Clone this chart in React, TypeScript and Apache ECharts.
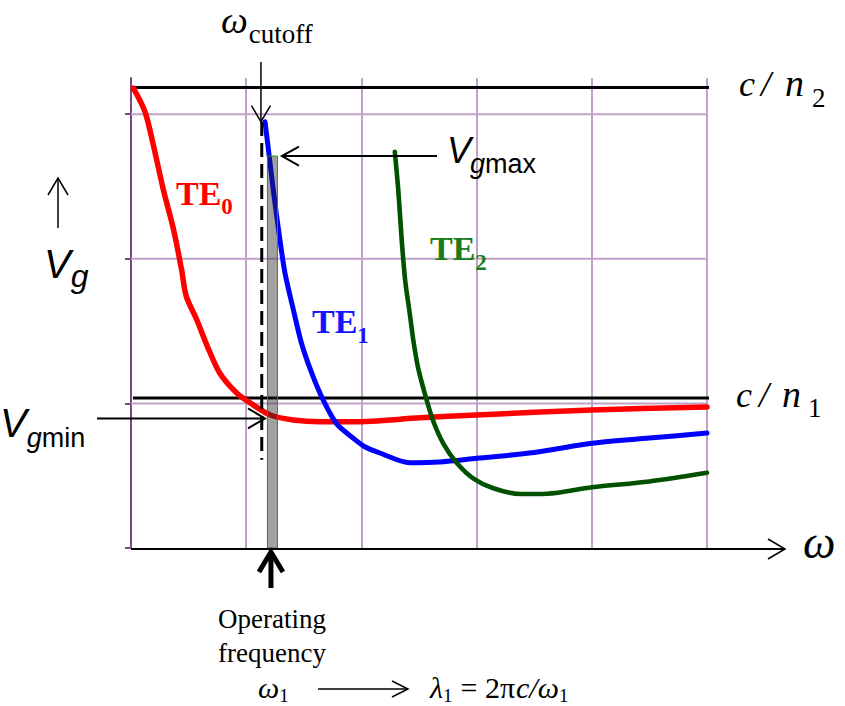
import React, { useEffect, useRef } from 'react';
import * as echarts from 'echarts';

// ---------- data (omega in grid units, group velocity in grid units) ----------
const omegaTicks = [0, 1, 2, 3, 4, 5];
const vgGridValues = [1, 2, 3];
const vgTickValues = [0, 1, 2, 3];

const te0Omega = [0.02, 0.12, 0.19, 0.28, 0.37, 0.44, 0.48, 0.57, 0.66, 0.77, 0.92, 1.06, 1.21, 1.41, 1.64, 1.93, 2.51, 3.0, 4.0, 5.0];
const te0Vg = [3.18, 3.02, 2.8, 2.48, 2.2, 1.92, 1.74, 1.58, 1.4, 1.21, 1.07, 0.99, 0.92, 0.885, 0.873, 0.873, 0.9, 0.92, 0.955, 0.975];

const te1Omega = [1.163, 1.19, 1.235, 1.293, 1.337, 1.41, 1.48, 1.57, 1.67, 1.786, 1.93, 2.03, 2.16, 2.42, 2.68, 3.0, 3.5, 4.0, 4.5, 5.0];
const te1Vg = [2.948, 2.775, 2.476, 2.13, 1.9, 1.646, 1.416, 1.207, 1.02, 0.858, 0.759, 0.7, 0.657, 0.59, 0.595, 0.62, 0.66, 0.724, 0.76, 0.795];

const te2Omega = [2.29, 2.32, 2.35, 2.38, 2.42, 2.45, 2.49, 2.55, 2.62, 2.71, 2.83, 2.97, 3.145, 3.38, 3.61, 4.0, 4.5, 5.0];
const te2Vg = [2.74, 2.476, 2.13, 1.85, 1.62, 1.44, 1.254, 1.07, 0.885, 0.724, 0.586, 0.482, 0.413, 0.373, 0.375, 0.42, 0.46, 0.52];

const cOverN2 = 3.185;
const cOverN1 = 1.037;
const limitLineOmega = [0.017, 5.026];
const cutoffOmega = 1.135;
const cutoffDashVg = [2.946, 0.61];
const operatingBand = [1.18, 1.267]; // omega range of shaded band
const vgMax = 2.71;
const vgMin = 0.896;
const vgMaxTipOmega = 1.31;
const vgMinTipOmega = 1.163;

const SERIF = '"Liberation Serif","Times New Roman",Times,serif';
const SANS = '"Liberation Sans",Arial,Helvetica,sans-serif';
const LAVENDER = '#c0a2c9';
const AXIS_PURPLE = '#7b4586';

type Run = { t: string; size: number; fam?: 'serif' | 'sans'; it?: boolean; bd?: boolean; dy?: number; at?: number; gap?: number; color?: string };

let mctx: CanvasRenderingContext2D | null = null;
function measureText(font: string, s: string): number {
  if (!mctx) mctx = document.createElement('canvas').getContext('2d');
  if (!mctx) return s.length * 10;
  mctx.font = font;
  return mctx.measureText(s).width;
}

function textLine(x: number, baseline: number, runs: Run[], opts: { center?: boolean } = {}): any[] {
  const items = runs.map((r) => {
    const family = r.fam === 'sans' ? SANS : SERIF;
    const font = `${r.it ? 'italic ' : ''}${r.bd ? 'bold ' : ''}${r.size}px ${family}`;
    return { r, family, w: measureText(font, r.t) };
  });
  const total = items.reduce((s, it) => s + it.w + (it.r.gap ?? 0), 0);
  let cx = opts.center ? x - total / 2 : x;
  return items.map(({ r, family, w }) => {
    cx += r.gap ?? 0;
    const left = r.at ?? cx;
    const el = {
      type: 'text',
      x: left,
      y: baseline + (r.dy ?? 0) - 0.34 * r.size,
      silent: true,
      z: 100,
      style: {
        text: r.t,
        fontSize: r.size,
        fontFamily: family,
        fontStyle: r.it ? 'italic' : 'normal',
        fontWeight: r.bd ? 'bold' : 'normal',
        fill: r.color ?? '#000',
        align: 'left',
        verticalAlign: 'middle',
      },
    };
    cx = left + w;
    return el;
  });
}

function arrow(x1: number, y1: number, x2: number, y2: number, len: number, half: number, w: number, headW?: number, shaftInset = 0): any[] {
  const dx = x2 - x1, dy = y2 - y1;
  const L = Math.hypot(dx, dy);
  const ux = dx / L, uy = dy / L;
  const nx = -uy, ny = ux;
  const bx = x2 - ux * len, by = y2 - uy * len;
  return [
    { type: 'line', silent: true, z: 100, shape: { x1, y1, x2: x2 - ux * shaftInset, y2: y2 - uy * shaftInset }, style: { stroke: '#000', lineWidth: w } },
    {
      type: 'polyline', silent: true, z: 100,
      shape: { points: [[bx + nx * half, by + ny * half], [x2, y2], [bx - nx * half, by - ny * half]] },
      style: { stroke: '#000', lineWidth: headW ?? w, fill: null, lineJoin: 'miter' },
    },
  ];
}

const zip = (xs: number[], ys: number[]) => xs.map((x, i) => [x, ys[i]]);

function curve(name: string, xs: number[], ys: number[], color: string, width: number) {
  return {
    type: 'line', name, data: zip(xs, ys), smooth: 0.3, showSymbol: false, symbol: 'none',
    silent: true, z: 3, lineStyle: { color, width, cap: 'round', join: 'round' },
  };
}

function buildOption(): any {
  const gridSeries = vgGridValues.map((v) => ({
    type: 'line', data: [[omegaTicks[0], v], [omegaTicks[omegaTicks.length - 1], v]], symbol: 'none', silent: true, z: 1,
    lineStyle: { color: LAVENDER, width: 2 },
  }));
  const limitSeries = [cOverN2, cOverN1].map((v) => ({
    type: 'line', data: [[limitLineOmega[0], v], [limitLineOmega[1], v]], symbol: 'none', silent: true, z: 2, clip: false,
    lineStyle: { color: '#000', width: 3 },
  }));
  return {
    animation: false,
    grid: { left: 131, right: 138, top: 78, bottom: 158 },
    xAxis: {
      type: 'value', min: 0, max: 5, interval: 1,
      axisLine: { show: false }, axisTick: { show: false }, axisLabel: { show: false },
      splitLine: { show: true, lineStyle: { color: LAVENDER, width: 2 } },
    },
    yAxis: {
      type: 'value', min: 0, max: 3.25, interval: 1,
      axisLine: { show: true, lineStyle: { color: AXIS_PURPLE, width: 2 } },
      axisTick: { show: true, customValues: vgTickValues, length: 6, lineStyle: { color: AXIS_PURPLE, width: 2 } },
      axisLabel: { show: false },
      splitLine: { show: false },
    },
    series: [
      ...gridSeries,
      ...limitSeries,
      curve('TE0', te0Omega, te0Vg, '#ff0000', 5.5),
      curve('TE1', te1Omega, te1Vg, '#0000ff', 5),
      curve('TE2', te2Omega, te2Vg, '#005200', 4.6),
      {
        type: 'line', data: [[cutoffOmega, cutoffDashVg[0]], [cutoffOmega, cutoffDashVg[1]]], symbol: 'none', silent: true, z: 3,
        lineStyle: { color: '#000', width: 3, type: [14, 7] },
      },
      {
        type: 'custom', silent: true, z: 5,
        data: [[operatingBand[0], operatingBand[1], vgMax]],
        renderItem: (_params: any, api: any) => {
          const p1 = api.coord([api.value(0), api.value(2)]);
          const p2 = api.coord([api.value(1), 0]);
          return {
            type: 'rect',
            shape: { x: p1[0] + 0.5, y: p1[1], width: p2[0] - p1[0], height: p2[1] - p1[1] },
            style: { fill: 'rgba(30,30,30,0.42)', stroke: '#2e8b2e', lineWidth: 1 },
          };
        },
      },
    ],
  };
}

function buildGraphic(px: (x: number, y: number) => number[]): any[] {
  const els: any[] = [];
  const origin = px(0, 0);
  // x axis with open arrow
  els.push(...arrow(origin[0], origin[1] + 1, 785, origin[1] + 1, 17, 10, 2, 1.5));
  // cutoff arrow
  const cutTip = px(te1Omega[0], te1Vg[0]);
  const cutX = px(cutoffOmega - 0.007, 0)[0];
  els.push(...arrow(cutX, 62, cutX, cutTip[1], 16, 9.5, 1.5));
  // vg max arrow
  const maxTip = px(vgMaxTipOmega, vgMax);
  els.push(...arrow(437, maxTip[1], maxTip[0], maxTip[1], 17, 9.5, 2));
  // vg min arrow
  const minTip = px(vgMinTipOmega, vgMin);
  els.push(...arrow(97, minTip[1], minTip[0], minTip[1], 17, 10, 2));
  // up arrow next to Vg
  els.push(...arrow(58, 228, 58, 178, 17, 10, 1.5));
  // operating frequency thick arrow
  const opX = px((operatingBand[0] + operatingBand[1]) / 2, 0)[0] - 1;
  els.push(...arrow(opX, 588, opX, origin[1] + 4, 20, 12, 5, 5, 3));
  // formula arrow
  els.push(...arrow(318, 689, 408, 689, 16, 8, 1.5));

  // texts
  els.push(...textLine(221, 33, [
    { t: 'ω', size: 38, it: true },
    { t: 'cutoff', size: 27, dy: 10, gap: 1 },
  ]));
  els.push(...textLine(447, 163, [
    { t: 'V', size: 36, fam: 'sans', it: true },
    { t: 'g', size: 27, fam: 'sans', it: true, dy: 10, gap: -1 },
    { t: 'max', size: 27, fam: 'sans', dy: 10 },
  ]));
  els.push(...textLine(0, 437, [
    { t: 'V', size: 40, fam: 'sans', it: true },
    { t: 'g', size: 27, fam: 'sans', it: true, dy: 10 },
    { t: 'min', size: 27, fam: 'sans', dy: 10 },
  ]));
  els.push(...textLine(44, 278, [
    { t: 'V', size: 40, fam: 'sans', it: true },
    { t: 'g', size: 32, fam: 'sans', it: true, dy: 9 },
  ]));
  // mode labels
  els.push(...textLine(176, 205, [
    { t: 'TE', size: 34, bd: true, color: '#ff0000' },
    { t: '0', size: 23, bd: true, dy: 9, color: '#ff0000' },
  ]));
  els.push(...textLine(312, 333, [
    { t: 'TE', size: 34, bd: true, color: '#1414ff' },
    { t: '1', size: 23, bd: true, dy: 10, color: '#1414ff' },
  ]));
  els.push(...textLine(430, 260, [
    { t: 'TE', size: 34, bd: true, color: '#1b7c1b' },
    { t: '2', size: 23, bd: true, dy: 10, color: '#1b7c1b' },
  ]));
  // c / n labels
  els.push(...textLine(0, 96, [
    { t: 'c', size: 36, it: true, at: 739 },
    { t: '/', size: 36, it: true, at: 761 },
    { t: 'n', size: 38, it: true, at: 785 },
    { t: '2', size: 27, dy: 11, at: 812 },
  ]));
  els.push(...textLine(0, 407, [
    { t: 'c', size: 36, it: true, at: 736 },
    { t: '/', size: 36, it: true, at: 759 },
    { t: 'n', size: 38, it: true, at: 782 },
    { t: '1', size: 27, dy: 10, at: 808 },
  ]));
  // omega axis label
  els.push(...textLine(803, 558, [{ t: 'ω', size: 46, it: true }]));
  // operating frequency
  els.push(...textLine(272, 628, [{ t: 'Operating', size: 27 }], { center: true }));
  els.push(...textLine(272, 662, [{ t: 'frequency', size: 27 }], { center: true }));
  // bottom formula
  els.push(...textLine(258, 698, [
    { t: 'ω', size: 30, it: true },
    { t: '1', size: 19, dy: 4 },
  ]));
  els.push(...textLine(430, 698, [
    { t: 'λ', size: 30, it: true },
    { t: '1', size: 19, dy: 4 },
    { t: '= 2π', size: 30, gap: 8 },
    { t: 'c/ω', size: 30, it: true, gap: 1 },
    { t: '1', size: 19, dy: 4 },
  ]));
  return els;
}

export default function App() {
  const ref = useRef<HTMLDivElement>(null);
  useEffect(() => {
    document.body.style.margin = '0';
    const chart = echarts.init(ref.current!, undefined, { renderer: 'svg' });
    chart.setOption(buildOption());
    const px = (x: number, y: number) => chart.convertToPixel({ gridIndex: 0 }, [x, y]) as number[];
    chart.setOption({ graphic: buildGraphic(px) });
    return () => chart.dispose();
  }, []);
  return <div ref={ref} style={{ width: 845, height: 706, background: '#fff' }} />;
}
